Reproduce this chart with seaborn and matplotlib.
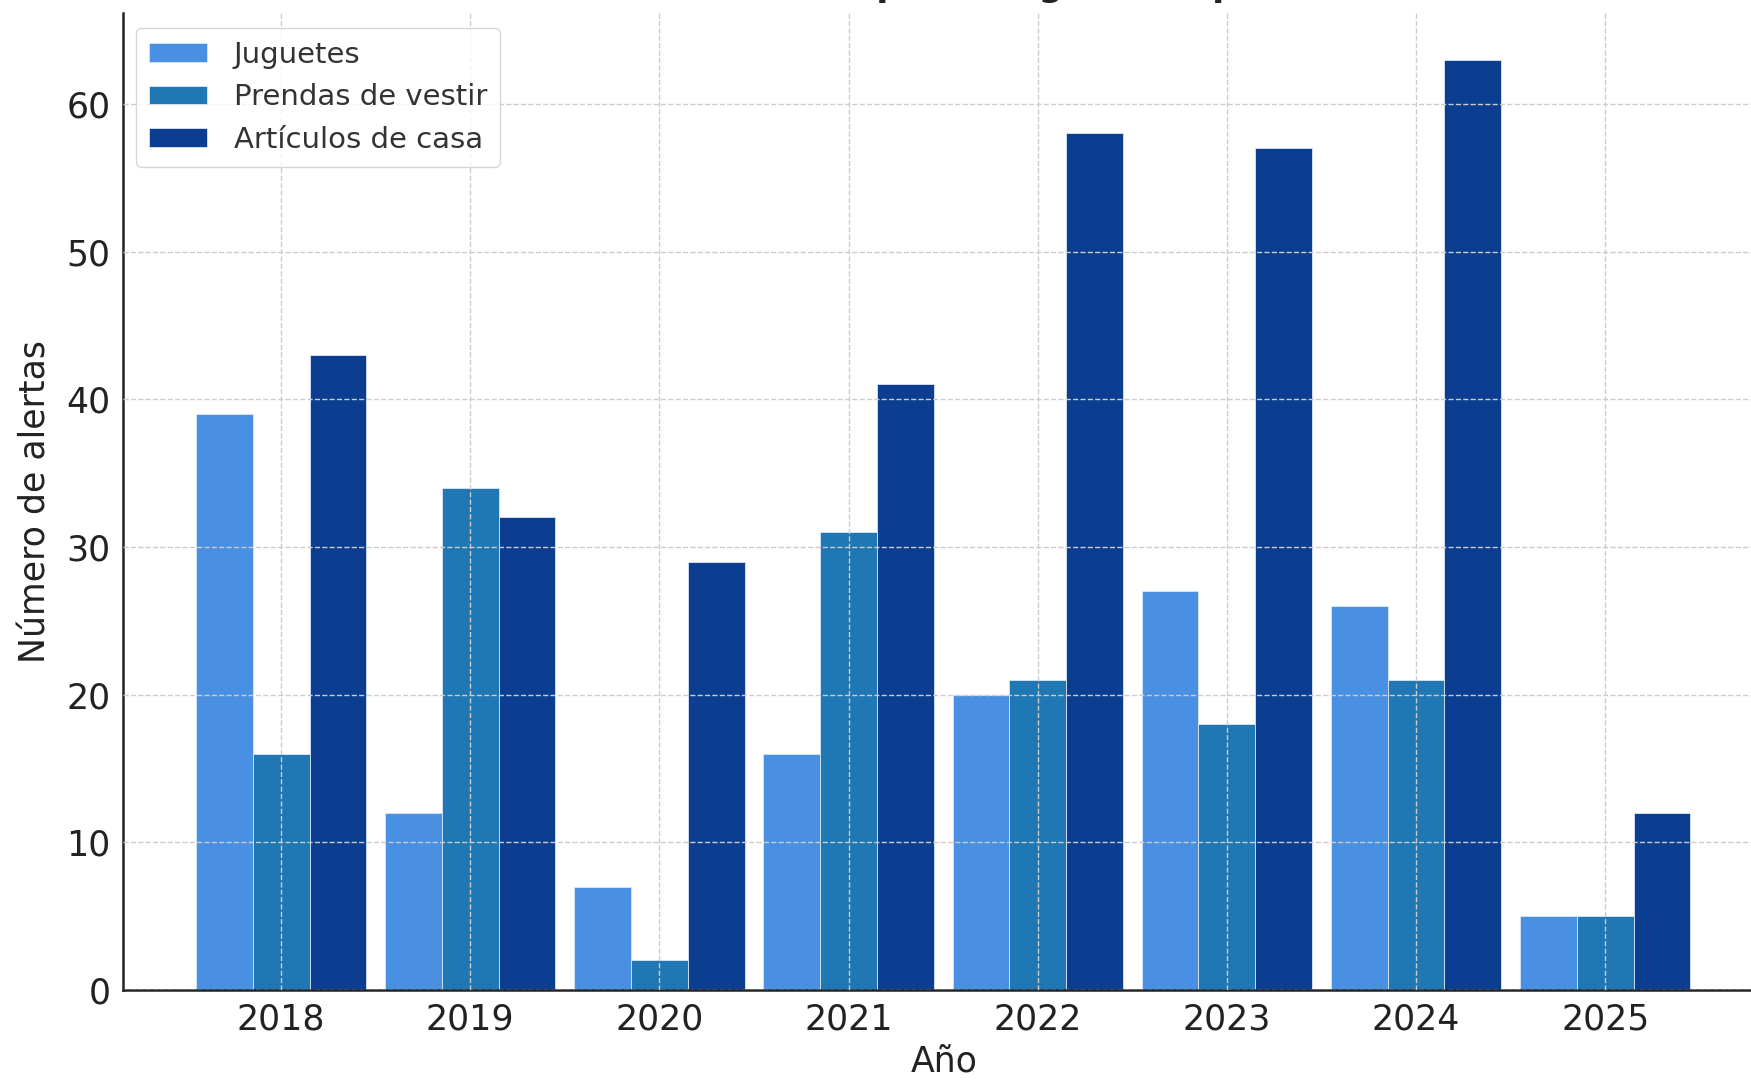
import numpy as np
import pandas as pd
import matplotlib
matplotlib.use("Agg")
import matplotlib.pyplot as plt
import seaborn as sns

# datos
years = ["2018", "2019", "2020", "2021", "2022", "2023", "2024", "2025"]
juguetes = [39, 12, 7, 16, 20, 27, 26, 5]
prendas = [16, 34, 2, 31, 21, 18, 21, 5]
casa = [43, 32, 29, 41, 58, 57, 63, 12]
categorias = ["Juguetes", "Prendas de vestir", "Artículos de casa"]
colores = ["#4A90E2", "#1F77B4", "#0B3D91"]

df = pd.DataFrame({"Año": years, "Juguetes": juguetes,
                   "Prendas de vestir": prendas, "Artículos de casa": casa})
df = df.melt(id_vars="Año", var_name="Categoría", value_name="Alertas")

sns.set_style("white")
plt.rcParams["font.family"] = ["DejaVu Sans"]

fig = plt.figure(figsize=(17.51, 10.81), dpi=100)
ax = fig.add_axes([123 / 1751, 91 / 1081, 1642 / 1751, 977 / 1081])

sns.barplot(data=df, x="Año", y="Alertas", hue="Categoría", hue_order=categorias,
            palette=colores, width=0.9, saturation=1, ax=ax,
            edgecolor="#dce6f5", linewidth=0.6)

ax.set_xlim(-0.836, 7.845)
ax.set_ylim(0, 66.15)
ax.set_yticks([0, 10, 20, 30, 40, 50, 60])

ax.grid(True, linestyle="--", color="#cccccc", linewidth=1.0)
ax.set_axisbelow(False)

for s in ["top", "right"]:
    ax.spines[s].set_visible(False)
for s in ["left", "bottom"]:
    ax.spines[s].set_linewidth(1.8)
    ax.spines[s].set_color("#222222")

ax.tick_params(axis="both", direction="in", length=7, width=1.6, colors="#222222",
               labelsize=25, pad=9)

ax.set_xlabel("Año", fontsize=25, color="#222222", labelpad=6)
ax.set_ylabel("Número de alertas", fontsize=25, color="#222222", labelpad=10)

handles, labels = ax.get_legend_handles_labels()
leg = ax.legend(handles, labels, loc="upper left", fontsize=21, frameon=True,
                fancybox=True, framealpha=0.8, edgecolor="#cccccc",
                bbox_to_anchor=(-0.001, 1.0), handlelength=2.0, handleheight=0.6,
                borderpad=0.45, labelspacing=0.5, handletextpad=0.9)
for t in leg.get_texts():
    t.set_color("#333333")

# título casi fuera del lienzo, como en la imagen original
fig.text(0.53, 1.0 + 4 / 1081, "Evolución de alertas por categoría de producto",
         ha="center", va="baseline", fontsize=25, fontweight="bold", color="#222222")

fig.savefig("out.png", dpi=100)
